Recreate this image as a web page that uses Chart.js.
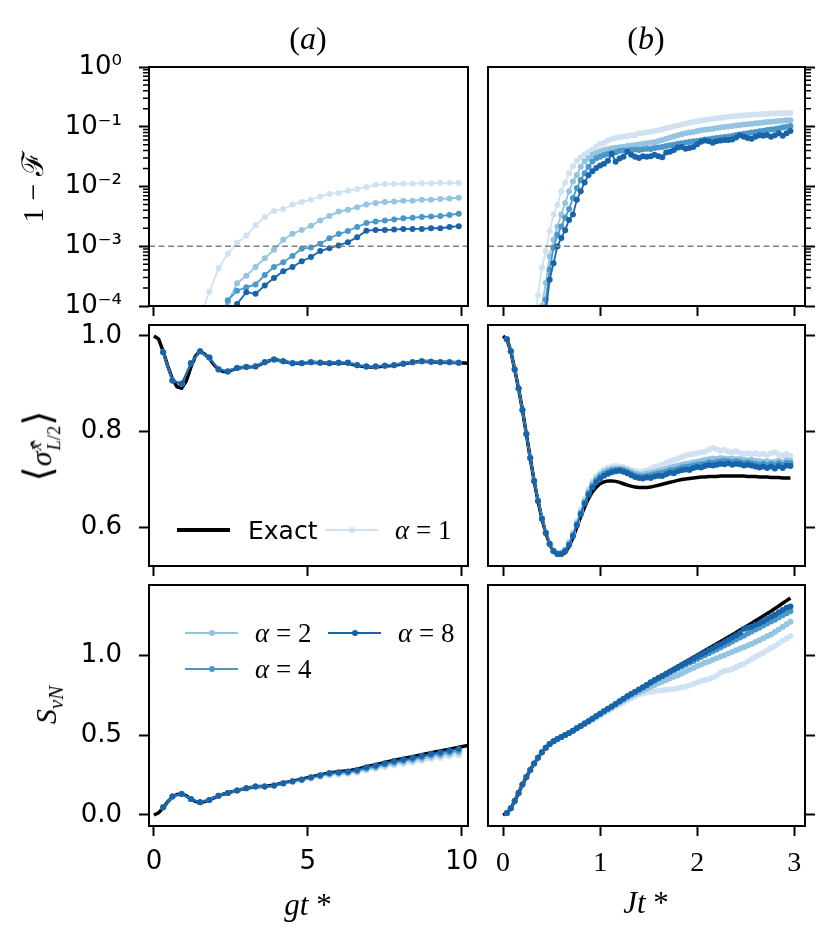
<!DOCTYPE html>
<html>
<head>
<meta charset="utf-8">
<title>Infidelity, magnetization and entanglement entropy</title>
<script src="https://cdn.jsdelivr.net/npm/chart.js@4.4.1/dist/chart.umd.min.js"></script>
<style>
  html, body { margin: 0; padding: 0; background: #fff; }
  body { position: relative; width: 830px; height: 949px; overflow: hidden; }
  canvas { position: absolute; }
  .m { position: absolute; font-family: 'Liberation Serif', 'DejaVu Serif', serif; color: #000;
       white-space: nowrap; line-height: 1; transform: translate(-50%, -50%); }
  .rot { transform: translate(-50%, -50%) rotate(-90deg); }
  .stk { display: inline-flex; flex-direction: column; font-size: 0.62em; vertical-align: middle;
         line-height: 1.05; margin-left: 1px; }
  .leg-line { position: absolute; }
  .leg-dot { position: absolute; width: 6px; height: 6px; border-radius: 50%; }
  .leg-txt { position: absolute; transform: translateY(-50%); white-space: nowrap; line-height: 1; color: #000; }
</style>
</head>
<body>

<canvas id="a1"></canvas>
<canvas id="b1"></canvas>
<canvas id="a2"></canvas>
<canvas id="b2"></canvas>
<canvas id="a3"></canvas>
<canvas id="b3"></canvas>

<div class="m" style="left:308px;top:38px;font-size:32px">(<i>a</i>)</div>
<div class="m" style="left:646px;top:38px;font-size:32px">(<i>b</i>)</div>
<div class="m" style="left:308px;top:904px;font-size:31px"><i>gt</i> *</div>
<div class="m" style="left:646px;top:902px;font-size:31px"><i>Jt</i> *</div>

<div class="m rot" style="left:33px;top:187px;font-size:30px">1 − ℱ</div>
<div class="m rot" style="left:41px;top:446px;font-size:30px"><span style="font-size:1.3em">⟨</span><i>σ̂</i><span class="stk"><i>x</i><span><i>L</i>/2</span></span><span style="font-size:1.3em">⟩</span></div>
<div class="m rot" style="left:49px;top:705px;font-size:30px"><i>S</i><sub style="font-size:0.7em"><i>vN</i></sub></div>

<div id="legends"></div>

<script>
// ---- sample times ----
const T_A = [0, 0.3, 0.6, 0.9, 1.2, 1.5, 1.8, 2.1, 2.4, 2.7, 3.0, 3.3, 3.6, 3.9, 4.2, 4.5, 4.8,
  5.1, 5.4, 5.7, 6.0, 6.3, 6.6, 6.9, 7.2, 7.5, 7.8, 8.1, 8.4, 8.7, 9.0, 9.3, 9.6, 9.9];
const T_A_EXACT = [0, 0.15, 0.3, 0.45, 0.6, 0.75, 0.9, 1.05, 1.2, 1.35, 1.5, 1.65, 1.8, 1.95, 2.1,
  2.25, 2.4, 2.55, 2.7, 2.85, 3.0, 3.3, 3.6, 3.9, 4.2, 4.5, 4.8, 5.1, 5.4, 5.7, 6.0, 6.3, 6.6,
  6.9, 7.2, 7.5, 7.8, 8.1, 8.4, 8.7, 9.0, 9.3, 9.6, 9.9, 10.2];
const T_B = [0, 0.04, 0.08, 0.12, 0.16, 0.2, 0.24, 0.28, 0.32, 0.36, 0.4, 0.44, 0.48, 0.52, 0.56,
  0.6, 0.64, 0.68, 0.72, 0.76, 0.8, 0.84, 0.88, 0.92, 0.96, 1, 1.04, 1.08, 1.12, 1.16, 1.2, 1.24,
  1.28, 1.32, 1.36, 1.4, 1.44, 1.48, 1.52, 1.56, 1.6, 1.64, 1.68, 1.72, 1.76, 1.8, 1.84, 1.88,
  1.92, 1.96, 2, 2.04, 2.08, 2.12, 2.16, 2.2, 2.24, 2.28, 2.32, 2.36, 2.4, 2.44, 2.48, 2.52,
  2.56, 2.6, 2.64, 2.68, 2.72, 2.76, 2.8, 2.84, 2.88, 2.92, 2.96];

const ALPHAS = [1, 2, 4, 8];
const ALPHA_COLORS = ['#d0e1f2', '#94c4df', '#4a98c9', '#1764ab'];
const THRESHOLD = 1e-3;

// ---- (a) infidelity 1 - F ----
const INF_A_1 = [1e-9, 1e-8, 1e-7, 6e-7, 5e-6, 6.5e-5, 1.74e-4, 4.3e-4, 7.5e-4, 1.14e-3, 1.51e-3,
  2.24e-3, 3.1e-3, 3.9e-3, 4.2e-3, 5.0e-3, 5.5e-3, 6.0e-3, 6.8e-3, 7.5e-3, 7.8e-3, 8.5e-3, 9.1e-3,
  9.8e-3, 1.07e-2, 1.1e-2, 1.1e-2, 1.12e-2, 1.12e-2, 1.13e-2, 1.13e-2, 1.15e-2, 1.15e-2, 1.14e-2];
const INF_A_2 = [1e-9, 1e-8, 1e-7, 5e-7, 2e-6, 4e-6, 1e-5, 3e-5, 1.15e-4, 2.4e-4, 3.2e-4, 4.5e-4,
  6.3e-4, 8.7e-4, 1.28e-3, 1.62e-3, 1.87e-3, 2.2e-3, 2.7e-3, 3.2e-3, 3.8e-3, 4.1e-3, 4.5e-3,
  5.0e-3, 5.3e-3, 5.5e-3, 5.6e-3, 5.8e-3, 5.8e-3, 6.0e-3, 6.0e-3, 6.2e-3, 6.3e-3, 6.5e-3];
const INF_A_4 = [1e-9, 1e-8, 1e-7, 4e-7, 1.5e-6, 5e-6, 1.5e-5, 4e-5, 1.25e-4, 1.8e-4, 2.05e-4,
  2.3e-4, 3.3e-4, 4.5e-4, 5.4e-4, 6.9e-4, 9.1e-4, 9.5e-4, 1.1e-3, 1.36e-3, 1.6e-3, 1.8e-3, 2.1e-3,
  2.45e-3, 2.6e-3, 2.7e-3, 2.8e-3, 2.95e-3, 3.0e-3, 3.1e-3, 3.15e-3, 3.2e-3, 3.35e-3, 3.5e-3];
const INF_A_8 = [1e-9, 1e-8, 1e-7, 3e-7, 1e-6, 3e-6, 1e-5, 3.5e-5, 6e-5, 1.08e-4, 1.7e-4, 1.6e-4,
  2.2e-4, 2.95e-4, 3.8e-4, 4.5e-4, 5.6e-4, 6.6e-4, 8.3e-4, 9.3e-4, 1.03e-3, 1.17e-3, 1.42e-3,
  1.82e-3, 1.87e-3, 1.87e-3, 1.9e-3, 1.95e-3, 1.95e-3, 1.95e-3, 2.0e-3, 2.0e-3, 2.1e-3, 2.17e-3];

// ---- (b) infidelity 1 - F ----
const INF_B_1 = [1e-9, 1e-8, 1e-7, 1e-6, 3e-6, 8e-6, 1.5e-5, 3e-5, 5.2e-5, 1.5e-4,
  4.4e-4, 8.3e-4, 1.78e-3, 3.4e-3, 4.9e-3, 8.3e-3, 0.0117, 0.0166, 0.0219, 0.0269,
  0.0309, 0.0347, 0.038, 0.0417, 0.0468, 0.0513, 0.0537, 0.0589, 0.0617, 0.0646,
  0.0676, 0.069, 0.0702, 0.0718, 0.073, 0.0776, 0.0785, 0.081, 0.0828, 0.0845,
  0.087, 0.0905, 0.094, 0.0978, 0.101, 0.105, 0.109, 0.113, 0.1165, 0.12,
  0.124, 0.127, 0.13, 0.133, 0.136, 0.139, 0.141, 0.144, 0.147, 0.149,
  0.151, 0.153, 0.156, 0.158, 0.159, 0.16, 0.162, 0.163, 0.164, 0.166,
  0.167, 0.168, 0.169, 0.17, 0.171];
const INF_B_2 = [1e-9, 1e-8, 1e-7, 5e-7, 1.5e-6, 4e-6, 8e-6, 1.5e-5, 2.5e-5, 4e-5,
  1e-4, 2.45e-4, 6.8e-4, 1.29e-3, 2.15e-3, 3.4e-3, 5.3e-3, 8.3e-3, 0.0121, 0.0156,
  0.0215, 0.0261, 0.0297, 0.0337, 0.0365, 0.039, 0.0408, 0.0422, 0.0435, 0.0445,
  0.0455, 0.0464, 0.0474, 0.0485, 0.0495, 0.0505, 0.0517, 0.0527, 0.054, 0.0552,
  0.0575, 0.06, 0.063, 0.066, 0.069, 0.072, 0.075, 0.078, 0.08, 0.082,
  0.085, 0.087, 0.089, 0.091, 0.093, 0.095, 0.097, 0.099, 0.101, 0.103,
  0.105, 0.107, 0.109, 0.11, 0.112, 0.114, 0.116, 0.118, 0.12, 0.121,
  0.123, 0.125, 0.126, 0.128, 0.129];
const INF_B_4 = [1e-9, 1e-8, 1e-7, 4e-7, 1e-6, 2.5e-6, 5e-6, 1e-5, 1.8e-5, 3e-5,
  3.6e-5, 1.29e-4, 4.1e-4, 9.4e-4, 1.56e-3, 2.15e-3, 3e-3, 4.2e-3, 6.4e-3, 9.4e-3,
  0.0129, 0.0167, 0.0215, 0.0261, 0.0297, 0.0316, 0.0337, 0.035, 0.0365, 0.0375,
  0.0395, 0.04, 0.0395, 0.041, 0.0415, 0.0408, 0.042, 0.043, 0.0425, 0.044,
  0.045, 0.046, 0.0475, 0.049, 0.05, 0.052, 0.053, 0.0545, 0.0555, 0.057,
  0.058, 0.0595, 0.061, 0.062, 0.0635, 0.065, 0.066, 0.0675, 0.069, 0.07,
  0.0726, 0.074, 0.076, 0.078, 0.08, 0.082, 0.084, 0.086, 0.088, 0.09,
  0.092, 0.094, 0.097, 0.1, 0.103];
const INF_B_8 = [1e-9, 1e-8, 1e-7, 3e-7, 8e-7, 2e-6, 4e-6, 7e-6, 1.2e-5, 2e-5,
  2.5e-5, 7.9e-5, 2.75e-4, 5.2e-4, 1e-3, 1.38e-3, 1.86e-3, 2.75e-3, 3.4e-3, 6e-3,
  8.3e-3, 0.0117, 0.0155, 0.018, 0.0204, 0.0224, 0.024, 0.027, 0.035, 0.026,
  0.0295, 0.0316, 0.038, 0.034, 0.0316, 0.03, 0.032, 0.0316, 0.032, 0.034,
  0.032, 0.031, 0.037, 0.038, 0.041, 0.045, 0.046, 0.043, 0.044, 0.046,
  0.051, 0.056, 0.059, 0.057, 0.054, 0.057, 0.059, 0.06, 0.06, 0.061,
  0.066, 0.072, 0.068, 0.065, 0.063, 0.068, 0.072, 0.071, 0.073, 0.068,
  0.072, 0.078, 0.071, 0.078, 0.085];

// ---- (a) <sigma^x_{L/2}> ----
const SX_A_EXACT = [1.0, 0.994, 0.968, 0.937, 0.91, 0.894, 0.891, 0.906, 0.935, 0.958, 0.968,
  0.962, 0.953, 0.94, 0.93, 0.926, 0.926, 0.929, 0.932, 0.934, 0.935, 0.936, 0.945, 0.951, 0.947,
  0.943, 0.943, 0.945, 0.944, 0.943, 0.944, 0.943, 0.939, 0.935, 0.935, 0.937, 0.939, 0.942,
  0.945, 0.947, 0.946, 0.945, 0.945, 0.944, 0.943];
const SX_A_1 = [null, 0.966, 0.908, 0.901, 0.943, 0.967, 0.955, 0.931, 0.927, 0.933, 0.936, 0.937,
  0.946, 0.95, 0.947, 0.944, 0.944, 0.946, 0.945, 0.944, 0.945, 0.945, 0.941, 0.937, 0.937, 0.939,
  0.94, 0.943, 0.946, 0.947, 0.947, 0.946, 0.946, 0.945];
const SX_A_2 = [null, 0.966, 0.907, 0.9, 0.943, 0.968, 0.955, 0.931, 0.926, 0.933, 0.935, 0.937,
  0.945, 0.951, 0.947, 0.943, 0.944, 0.945, 0.944, 0.943, 0.944, 0.944, 0.94, 0.936, 0.936, 0.938,
  0.94, 0.942, 0.945, 0.947, 0.946, 0.945, 0.945, 0.944];
const SX_A_4 = [null, 0.966, 0.907, 0.9, 0.943, 0.968, 0.955, 0.93, 0.926, 0.933, 0.935, 0.936,
  0.945, 0.951, 0.947, 0.943, 0.943, 0.945, 0.944, 0.943, 0.944, 0.944, 0.939, 0.936, 0.936, 0.938,
  0.939, 0.942, 0.945, 0.947, 0.946, 0.945, 0.945, 0.944];
const SX_A_8 = [null, 0.966, 0.907, 0.9, 0.943, 0.968, 0.955, 0.93, 0.926, 0.933, 0.935, 0.936,
  0.945, 0.951, 0.947, 0.943, 0.943, 0.945, 0.944, 0.943, 0.944, 0.944, 0.939, 0.936, 0.936, 0.938,
  0.939, 0.942, 0.945, 0.947, 0.946, 0.945, 0.945, 0.944];

// ---- (b) <sigma^x_{L/2}> ----
const SX_B_EXACT = [1.0, 0.993, 0.968, 0.93, 0.89, 0.845, 0.795, 0.745, 0.697, 0.655,
  0.618, 0.588, 0.565, 0.55, 0.543, 0.542, 0.547, 0.56, 0.578, 0.6,
  0.622, 0.642, 0.66, 0.674, 0.684, 0.691, 0.695, 0.697, 0.697, 0.696,
  0.694, 0.691, 0.688, 0.686, 0.684, 0.683, 0.683, 0.683, 0.684, 0.686,
  0.688, 0.69, 0.692, 0.694, 0.696, 0.698, 0.7, 0.701, 0.702, 0.703,
  0.704, 0.705, 0.705, 0.706, 0.706, 0.706, 0.707, 0.707, 0.707, 0.707,
  0.707, 0.707, 0.707, 0.706, 0.706, 0.706, 0.705, 0.705, 0.705, 0.704,
  0.704, 0.704, 0.703, 0.703, 0.703];
const SX_B_1 = [null, 0.993, 0.968, 0.93, 0.89, 0.845, 0.795, 0.745, 0.698, 0.657,
  0.62, 0.59, 0.567, 0.552, 0.546, 0.547, 0.555, 0.57, 0.59, 0.613,
  0.637, 0.66, 0.68, 0.696, 0.707, 0.715, 0.721, 0.725, 0.727, 0.728,
  0.727, 0.726, 0.723, 0.72, 0.718, 0.716, 0.717, 0.719, 0.722, 0.726,
  0.728, 0.731, 0.735, 0.738, 0.741, 0.744, 0.747, 0.75, 0.752, 0.753,
  0.755, 0.757, 0.758, 0.762, 0.766, 0.763, 0.76, 0.762, 0.758, 0.757,
  0.759, 0.756, 0.754, 0.755, 0.753, 0.755, 0.752, 0.754, 0.751, 0.755,
  0.757, 0.752, 0.75, 0.753, 0.749];
const SX_B_2 = [null, 0.993, 0.968, 0.93, 0.89, 0.845, 0.795, 0.745, 0.697, 0.656,
  0.619, 0.589, 0.566, 0.551, 0.545, 0.546, 0.553, 0.567, 0.586, 0.609,
  0.632, 0.655, 0.675, 0.691, 0.702, 0.71, 0.716, 0.72, 0.722, 0.723,
  0.723, 0.722, 0.719, 0.716, 0.713, 0.711, 0.711, 0.713, 0.714, 0.716,
  0.718, 0.72, 0.722, 0.725, 0.727, 0.729, 0.731, 0.733, 0.734, 0.736,
  0.737, 0.739, 0.741, 0.742, 0.744, 0.743, 0.745, 0.744, 0.743, 0.744,
  0.742, 0.743, 0.741, 0.74, 0.741, 0.739, 0.738, 0.737, 0.738, 0.736,
  0.737, 0.739, 0.736, 0.74, 0.739];
const SX_B_4 = [null, 0.993, 0.968, 0.93, 0.89, 0.845, 0.795, 0.745, 0.697, 0.655,
  0.618, 0.588, 0.565, 0.55, 0.544, 0.545, 0.551, 0.564, 0.583, 0.606,
  0.629, 0.652, 0.671, 0.687, 0.698, 0.706, 0.712, 0.716, 0.719, 0.72,
  0.721, 0.719, 0.716, 0.712, 0.709, 0.707, 0.706, 0.708, 0.709, 0.711,
  0.713, 0.714, 0.716, 0.719, 0.72, 0.722, 0.725, 0.726, 0.727, 0.729,
  0.731, 0.732, 0.733, 0.736, 0.735, 0.737, 0.738, 0.739, 0.738, 0.737,
  0.738, 0.737, 0.735, 0.736, 0.734, 0.733, 0.731, 0.733, 0.73, 0.733,
  0.73, 0.734, 0.731, 0.735, 0.734];
const SX_B_8 = [null, 0.993, 0.968, 0.93, 0.89, 0.845, 0.795, 0.745, 0.697, 0.655,
  0.618, 0.588, 0.565, 0.55, 0.544, 0.544, 0.55, 0.563, 0.582, 0.604,
  0.627, 0.649, 0.668, 0.683, 0.694, 0.702, 0.708, 0.712, 0.715, 0.717,
  0.718, 0.716, 0.713, 0.709, 0.705, 0.703, 0.702, 0.704, 0.703, 0.706,
  0.708, 0.707, 0.711, 0.714, 0.713, 0.717, 0.719, 0.721, 0.72, 0.724,
  0.726, 0.725, 0.728, 0.73, 0.729, 0.731, 0.733, 0.732, 0.734, 0.731,
  0.733, 0.732, 0.729, 0.731, 0.729, 0.727, 0.725, 0.727, 0.724, 0.727,
  0.723, 0.728, 0.724, 0.729, 0.728];

// ---- (a) S_vN ----
const S_A_EXACT = [0, 0.013, 0.045, 0.083, 0.113, 0.128, 0.131, 0.12, 0.1, 0.085, 0.079, 0.084,
  0.094, 0.107, 0.12, 0.13, 0.138, 0.146, 0.153, 0.16, 0.167, 0.177, 0.18, 0.186, 0.2, 0.212,
  0.224, 0.238, 0.251, 0.263, 0.27, 0.276, 0.287, 0.302, 0.315, 0.329, 0.342, 0.353, 0.365,
  0.377, 0.39, 0.401, 0.412, 0.424, 0.435];
const S_A_1 = [null, 0.048, 0.115, 0.132, 0.1, 0.08, 0.094, 0.121, 0.138, 0.153, 0.167, 0.178,
  0.178, 0.182, 0.196, 0.206, 0.215, 0.227, 0.238, 0.248, 0.252, 0.256, 0.264, 0.278, 0.287,
  0.299, 0.309, 0.318, 0.327, 0.337, 0.348, 0.357, 0.366, 0.374];
const S_A_2 = [null, 0.048, 0.115, 0.132, 0.1, 0.08, 0.094, 0.121, 0.138, 0.153, 0.167, 0.178,
  0.178, 0.184, 0.197, 0.209, 0.219, 0.231, 0.243, 0.254, 0.259, 0.263, 0.271, 0.286, 0.296,
  0.309, 0.32, 0.33, 0.34, 0.35, 0.362, 0.371, 0.381, 0.39];
const S_A_4 = [null, 0.048, 0.115, 0.132, 0.1, 0.08, 0.094, 0.121, 0.138, 0.153, 0.167, 0.178,
  0.178, 0.184, 0.198, 0.21, 0.221, 0.234, 0.246, 0.258, 0.264, 0.268, 0.277, 0.293, 0.303,
  0.317, 0.329, 0.339, 0.349, 0.36, 0.373, 0.382, 0.392, 0.402];
const S_A_8 = [null, 0.048, 0.115, 0.132, 0.1, 0.08, 0.094, 0.121, 0.138, 0.153, 0.167, 0.178,
  0.178, 0.184, 0.199, 0.211, 0.222, 0.236, 0.249, 0.262, 0.268, 0.272, 0.282, 0.299, 0.31,
  0.324, 0.337, 0.347, 0.358, 0.37, 0.383, 0.393, 0.404, 0.414];

// ---- (b) S_vN ----
const S_B_EXACT = [0, 0.012, 0.042, 0.087, 0.138, 0.19, 0.237, 0.282, 0.322, 0.358,
  0.392, 0.421, 0.444, 0.461, 0.475, 0.488, 0.5, 0.513, 0.527, 0.542,
  0.557, 0.572, 0.587, 0.602, 0.618, 0.633, 0.648, 0.663, 0.678, 0.694,
  0.709, 0.724, 0.74, 0.755, 0.77, 0.785, 0.8, 0.815, 0.83, 0.845,
  0.86, 0.874, 0.889, 0.903, 0.917, 0.931, 0.945, 0.959, 0.973, 0.987,
  1.001, 1.015, 1.029, 1.043, 1.057, 1.071, 1.085, 1.099, 1.114, 1.128,
  1.142, 1.157, 1.171, 1.186, 1.2, 1.215, 1.23, 1.245, 1.26, 1.275,
  1.292, 1.308, 1.325, 1.341, 1.358];
const S_B_1 = [null, 0.012, 0.042, 0.087, 0.138, 0.19, 0.237, 0.282, 0.322, 0.358,
  0.392, 0.421, 0.444, 0.461, 0.475, 0.488, 0.5, 0.513, 0.527, 0.541,
  0.553, 0.566, 0.58, 0.594, 0.607, 0.621, 0.635, 0.649, 0.663, 0.677,
  0.691, 0.704, 0.717, 0.73, 0.742, 0.752, 0.76, 0.766, 0.77, 0.774,
  0.777, 0.78, 0.783, 0.786, 0.789, 0.793, 0.798, 0.803, 0.81, 0.82,
  0.83, 0.838, 0.845, 0.85, 0.86, 0.872, 0.89, 0.903, 0.906, 0.912,
  0.925, 0.937, 0.945, 0.96, 0.975, 0.99, 1.002, 1.015, 1.03, 1.045,
  1.058, 1.075, 1.09, 1.105, 1.118];
const S_B_2 = [null, 0.012, 0.042, 0.087, 0.138, 0.19, 0.237, 0.282, 0.322, 0.358,
  0.392, 0.421, 0.444, 0.461, 0.475, 0.488, 0.5, 0.513, 0.527, 0.542,
  0.557, 0.572, 0.587, 0.602, 0.618, 0.632, 0.646, 0.66, 0.674, 0.689,
  0.704, 0.718, 0.732, 0.745, 0.757, 0.768, 0.779, 0.79, 0.802, 0.813,
  0.824, 0.834, 0.845, 0.855, 0.865, 0.875, 0.886, 0.897, 0.908, 0.92,
  0.932, 0.942, 0.952, 0.961, 0.971, 0.981, 0.991, 1.0, 1.01, 1.02,
  1.03, 1.04, 1.05, 1.06, 1.07, 1.082, 1.094, 1.106, 1.118, 1.13,
  1.145, 1.16, 1.176, 1.193, 1.209];
const S_B_4 = [null, 0.012, 0.042, 0.087, 0.138, 0.19, 0.237, 0.282, 0.322, 0.358,
  0.392, 0.421, 0.444, 0.461, 0.475, 0.488, 0.5, 0.513, 0.527, 0.542,
  0.557, 0.572, 0.587, 0.602, 0.618, 0.634, 0.649, 0.664, 0.679, 0.695,
  0.71, 0.726, 0.741, 0.755, 0.769, 0.783, 0.797, 0.811, 0.826, 0.84,
  0.855, 0.868, 0.88, 0.892, 0.904, 0.916, 0.928, 0.94, 0.952, 0.964,
  0.976, 0.988, 1.0, 1.012, 1.024, 1.036, 1.048, 1.06, 1.072, 1.085,
  1.098, 1.11, 1.122, 1.135, 1.148, 1.16, 1.172, 1.185, 1.198, 1.21,
  1.222, 1.236, 1.25, 1.263, 1.275];
const S_B_8 = [null, 0.012, 0.042, 0.087, 0.138, 0.19, 0.237, 0.282, 0.322, 0.358,
  0.392, 0.421, 0.444, 0.461, 0.475, 0.488, 0.5, 0.513, 0.527, 0.542,
  0.557, 0.572, 0.587, 0.602, 0.618, 0.634, 0.649, 0.664, 0.679, 0.695,
  0.711, 0.727, 0.743, 0.757, 0.771, 0.785, 0.799, 0.814, 0.83, 0.844,
  0.857, 0.87, 0.884, 0.897, 0.911, 0.924, 0.938, 0.951, 0.964, 0.978,
  0.991, 1.004, 1.017, 1.03, 1.043, 1.057, 1.069, 1.082, 1.096, 1.11,
  1.124, 1.14, 1.165, 1.172, 1.178, 1.19, 1.2, 1.212, 1.226, 1.24,
  1.253, 1.268, 1.283, 1.296, 1.304];

// ---- axes ----
const XA_RANGE = [-0.16, 10.2];
const XB_RANGE = [-0.155, 3.11];
const XA_TICKS = [0, 5, 10];
const XB_TICKS = [0, 1, 2, 3];
const Y_TOP_RANGE = [1e-4, 1];
const Y_TOP_TICKS = [1e-4, 1e-3, 1e-2, 1e-1, 1];
const Y_TOP_LABELS = ['10⁻⁴', '10⁻³', '10⁻²', '10⁻¹', '10⁰'];
const Y_MID_RANGE = [0.519, 1.023];
const Y_MID_TICKS = [0.6, 0.8, 1.0];
const Y_MID_LABELS = ['0.6', '0.8', '1.0'];
const Y_BOT_RANGE = [-0.069, 1.439];
const Y_BOT_TICKS = [0, 0.5, 1.0];
const Y_BOT_LABELS = ['0.0', '0.5', '1.0'];

const SANS = { family: 'DejaVu Sans', size: 26 };
const SERIF = { family: 'Liberation Serif', size: 28 };

// minor ticks of the log axis: 2..9 x 10^k
const MINOR_LOG_TICKS = [];
for (let e = -4; e < 0; e++) {
  for (let k = 2; k <= 9; k++) MINOR_LOG_TICKS.push(k * Math.pow(10, e));
}

function pts(xs, ys) {
  return xs.map((x, i) => ({ x: x, y: ys[i] }));
}

function alphaSets(xs, series) {
  return series.map((s, k) => ({
    label: 'α = ' + ALPHAS[k],
    data: pts(xs, s),
    borderColor: ALPHA_COLORS[k],
    backgroundColor: ALPHA_COLORS[k],
    pointBackgroundColor: ALPHA_COLORS[k],
    borderWidth: 1.8,
    pointRadius: 3,
    pointBorderWidth: 0,
    order: 3 - k   // alpha = 8 on top
  }));
}

function exactSet(xs, ys) {
  return { label: 'Exact', data: pts(xs, ys), borderColor: '#000', borderWidth: 3.5,
           pointRadius: 0, order: 4 };
}

function thresholdSet(range) {
  return { label: 'threshold', data: pts(range, [THRESHOLD, THRESHOLD]), borderColor: '#808080',
           borderWidth: 1.3, borderDash: [6, 3.5], pointRadius: 0, order: -1 };
}

function setTicks(values) {
  return function (scale) { scale.ticks = values.map(v => ({ value: v })); };
}

function fixSize(prop, size) {
  return function (scale) {
    scale[prop] = size;
    scale.paddingLeft = 0; scale.paddingRight = 0;
    scale.paddingTop = 0; scale.paddingBottom = 0;
  };
}

const tickGrid = { display: true, drawOnChartArea: false, drawTicks: true, tickLength: 10,
                   tickWidth: 2, tickColor: '#000' };

function xAxis(range, ticks, height, font) {
  return {
    type: 'linear', position: 'bottom', min: range[0], max: range[1],
    afterBuildTicks: setTicks(ticks),
    afterFit: fixSize('height', height),
    grid: tickGrid,
    border: { display: false },
    ticks: { display: !!font, font: font || SANS, color: '#000', padding: 11, maxRotation: 0,
             autoSkip: false, callback: v => String(v) }
  };
}

function yAxis(type, position, range, ticks, labels, width) {
  return {
    type: type, position: position, min: range[0], max: range[1],
    afterBuildTicks: setTicks(ticks),
    afterFit: fixSize('width', width),
    grid: tickGrid,
    border: { display: false },
    ticks: { display: !!labels, font: SANS, color: '#000', padding: 17, autoSkip: false,
             callback: (v, i) => labels ? labels[i] : '' }
  };
}

// box around the plot area + minor ticks of the log axis
const framePlugin = {
  id: 'frame',
  afterDatasetsDraw(chart) {
    const ctx = chart.ctx, a = chart.chartArea, y = chart.scales.y;
    ctx.save();
    ctx.strokeStyle = '#000';
    if (y.type === 'logarithmic') {
      ctx.lineWidth = 1.5;
      ctx.beginPath();
      MINOR_LOG_TICKS.forEach(v => {
        const py = y.getPixelForValue(v);
        if (y.position === 'left') { ctx.moveTo(a.left - 6, py); ctx.lineTo(a.left, py); }
        else { ctx.moveTo(a.right, py); ctx.lineTo(a.right + 6, py); }
      });
      ctx.stroke();
    }
    ctx.lineWidth = 2;
    ctx.strokeRect(a.left, a.top, a.right - a.left, a.bottom - a.top);
    ctx.restore();
  }
};

function panel(id, box, padding, datasets, scales) {
  const cv = document.getElementById(id);
  cv.width = box[2]; cv.height = box[3];
  cv.style.left = box[0] + 'px'; cv.style.top = box[1] + 'px';
  cv.style.width = box[2] + 'px'; cv.style.height = box[3] + 'px';
  return new Chart(cv.getContext('2d'), {
    type: 'line',
    data: { datasets: datasets },
    options: {
      responsive: false, animation: false, events: [],
      layout: { padding: padding },
      plugins: { legend: { display: false }, tooltip: { enabled: false } },
      scales: scales
    },
    plugins: [framePlugin]
  });
}

// row 1: infidelity
panel('a1', [0, 50, 484, 271], { top: 17, right: 16, left: 0, bottom: 0 },
  alphaSets(T_A, [INF_A_1, INF_A_2, INF_A_4, INF_A_8]).concat([thresholdSet(XA_RANGE)]),
  { x: xAxis(XA_RANGE, XA_TICKS, 15, null),
    y: yAxis('logarithmic', 'left', Y_TOP_RANGE, Y_TOP_TICKS, Y_TOP_LABELS, 149) });
panel('b1', [484, 50, 346, 271], { top: 17, right: 0, left: 2, bottom: 0 },
  alphaSets(T_B, [INF_B_1, INF_B_2, INF_B_4, INF_B_8]).concat([thresholdSet(XB_RANGE)]),
  { x: xAxis(XB_RANGE, XB_TICKS, 15, null),
    y: yAxis('logarithmic', 'right', Y_TOP_RANGE, Y_TOP_TICKS, null, 25) });

// row 2: magnetization
panel('a2', [0, 321, 484, 257], { top: 4, right: 16, left: 0, bottom: 0 },
  alphaSets(T_A, [SX_A_1, SX_A_2, SX_A_4, SX_A_8]).concat([exactSet(T_A_EXACT, SX_A_EXACT)]),
  { x: xAxis(XA_RANGE, XA_TICKS, 12, null),
    y: yAxis('linear', 'left', Y_MID_RANGE, Y_MID_TICKS, Y_MID_LABELS, 149) });
panel('b2', [484, 321, 346, 257], { top: 4, right: 0, left: 2, bottom: 0 },
  alphaSets(T_B, [SX_B_1, SX_B_2, SX_B_4, SX_B_8]).concat([exactSet(T_B, SX_B_EXACT)]),
  { x: xAxis(XB_RANGE, XB_TICKS, 12, null),
    y: yAxis('linear', 'right', Y_MID_RANGE, Y_MID_TICKS, null, 25) });

// row 3: entanglement entropy
panel('a3', [0, 578, 484, 371], { top: 7, right: 16, left: 0, bottom: 0 },
  alphaSets(T_A, [S_A_1, S_A_2, S_A_4, S_A_8]).concat([exactSet(T_A_EXACT, S_A_EXACT)]),
  { x: xAxis(XA_RANGE, XA_TICKS, 123, SANS),
    y: yAxis('linear', 'left', Y_BOT_RANGE, Y_BOT_TICKS, Y_BOT_LABELS, 149) });
panel('b3', [484, 578, 346, 371], { top: 7, right: 0, left: 2, bottom: 0 },
  alphaSets(T_B, [S_B_1, S_B_2, S_B_4, S_B_8]).concat([exactSet(T_B, S_B_EXACT)]),
  { x: xAxis(XB_RANGE, XB_TICKS, 123, SERIF),
    y: yAxis('linear', 'right', Y_BOT_RANGE, Y_BOT_TICKS, null, 25) });

// ---- legends (matplotlib-style, inside the axes) ----
const legendHost = document.getElementById('legends');
function legendEntry(x, y, color, thick, withDot, html, textX, fontCss) {
  const line = document.createElement('div');
  line.className = 'leg-line';
  line.style.cssText = `left:${x}px;top:${y - thick / 2}px;width:53px;height:${thick}px;background:${color}`;
  legendHost.appendChild(line);
  if (withDot) {
    const dot = document.createElement('div');
    dot.className = 'leg-dot';
    dot.style.cssText = `left:${x + 23.5}px;top:${y - 3}px;background:${color}`;
    legendHost.appendChild(dot);
  }
  const txt = document.createElement('div');
  txt.className = 'leg-txt';
  txt.style.cssText = `left:${textX}px;top:${y}px;${fontCss}`;
  txt.innerHTML = html;
  legendHost.appendChild(txt);
}
const MATH_CSS = "font-family:'Liberation Serif','DejaVu Serif',serif;font-size:27px";
legendEntry(177, 530, '#000', 3.5, false, 'Exact', 248, "font-family:'DejaVu Sans';font-size:25px");
legendEntry(325, 530, ALPHA_COLORS[0], 2, true, '<i>α</i> = ' + ALPHAS[0], 395, MATH_CSS);
legendEntry(185, 633, ALPHA_COLORS[1], 2, true, '<i>α</i> = ' + ALPHAS[1], 255, MATH_CSS);
legendEntry(185, 669, ALPHA_COLORS[2], 2, true, '<i>α</i> = ' + ALPHAS[2], 255, MATH_CSS);
legendEntry(328, 633, ALPHA_COLORS[3], 2, true, '<i>α</i> = ' + ALPHAS[3], 398, MATH_CSS);
</script>
</body>
</html>
